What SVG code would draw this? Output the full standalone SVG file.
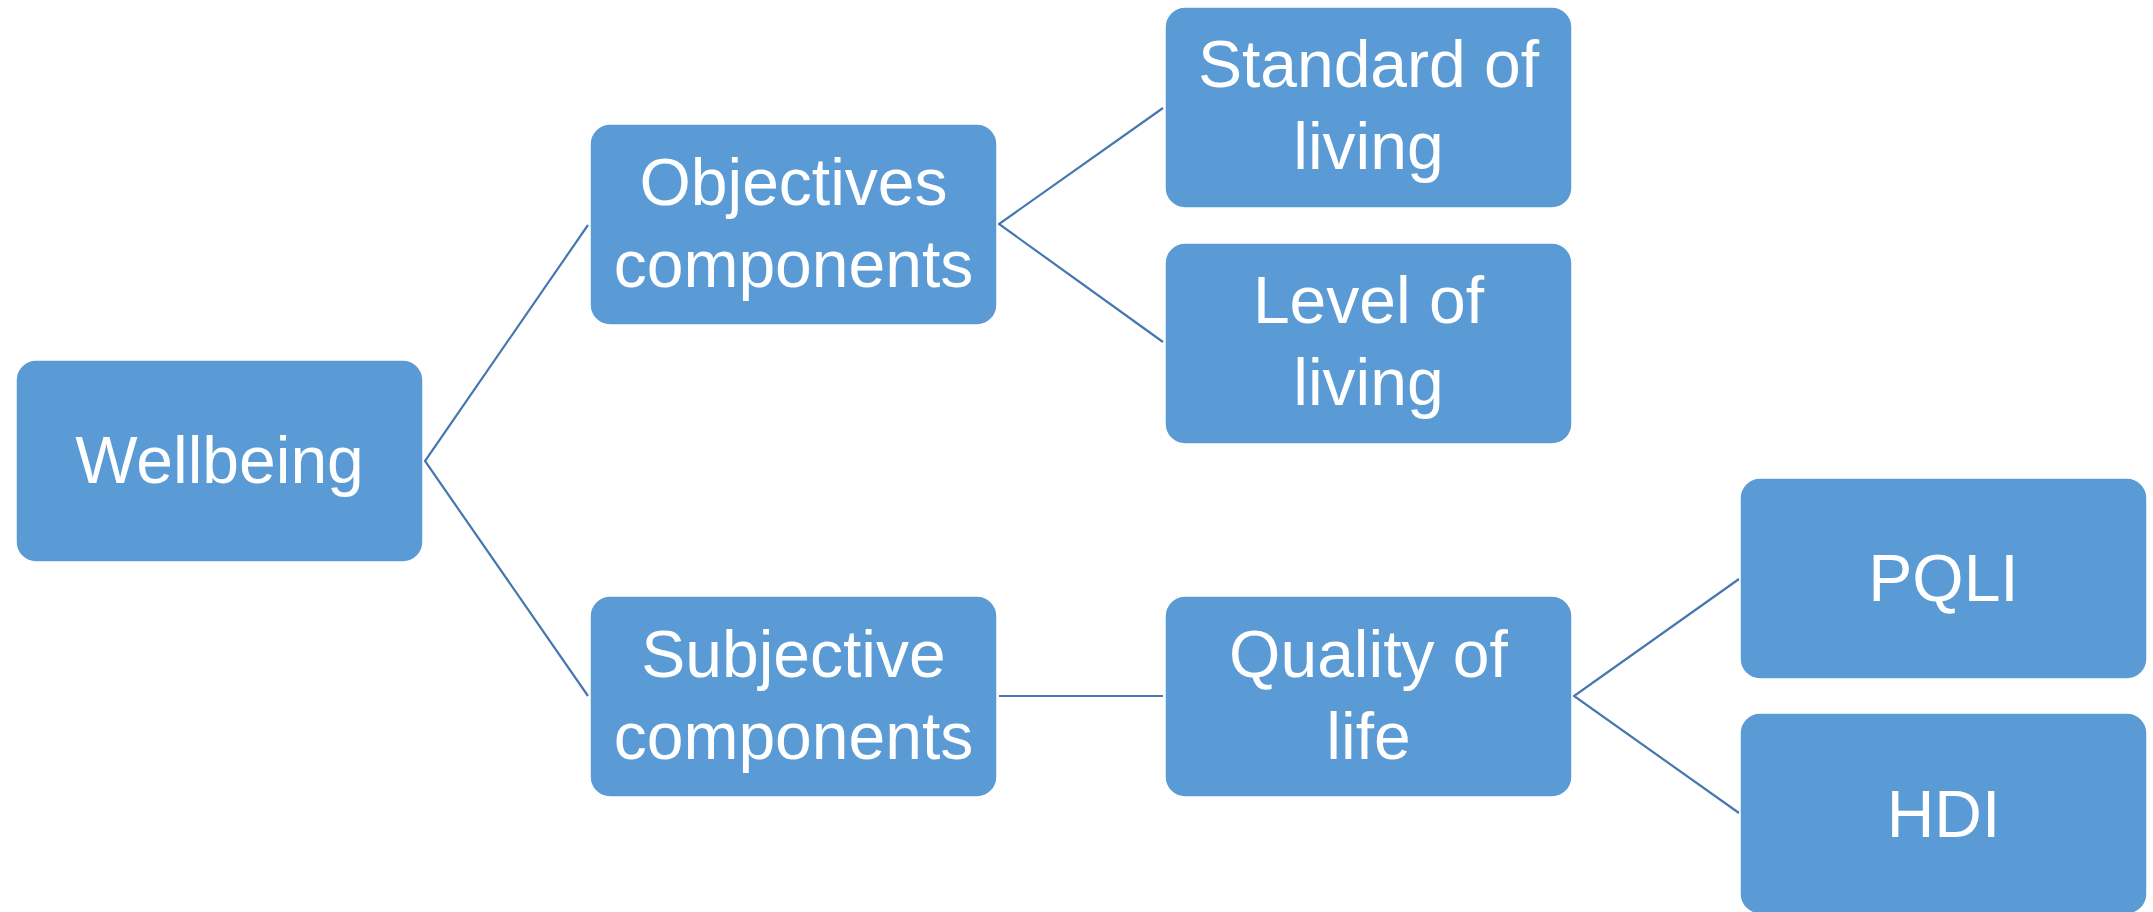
<svg xmlns="http://www.w3.org/2000/svg" width="2153" height="912" viewBox="0 0 2153 912">
  <style>
    .box { fill: #5B9BD5; stroke: #FFFFFF; stroke-width: 1.5; }
    .label { fill: #FFFFFF; font-family: "Liberation Sans", "Open Sans", sans-serif; font-size: 66px; text-anchor: middle; }
    .link { stroke: #4677B0; stroke-width: 2.2; fill: none; }
  </style>
  <rect width="2153" height="912" fill="#FFFFFF"/>

  <!-- connectors -->
  <g id="connectors">
    <path class="link" d="M588 225 L425 461 L588 696"/>
    <path class="link" d="M1163 108 L999 224 L1163 342"/>
    <path class="link" d="M999 696 L1163 696"/>
    <path class="link" d="M1739 579 L1574 696 L1739 813"/>
  </g>

  <g id="wellbeing">
    <rect class="box" x="16" y="360" width="407" height="202" rx="20"/>
    <text class="label" x="219.5" y="483">Wellbeing</text>
  </g>

  <g id="objectives">
    <rect class="box" x="590" y="124" width="407" height="201" rx="20"/>
    <text class="label" x="793.5" y="205">Objectives</text>
    <text class="label" x="793.5" y="287">components</text>
  </g>

  <g id="subjective">
    <rect class="box" x="590" y="596" width="407" height="201" rx="20"/>
    <text class="label" x="793.5" y="677">Subjective</text>
    <text class="label" x="793.5" y="759">components</text>
  </g>

  <g id="standard-of-living">
    <rect class="box" x="1165" y="7" width="407" height="201" rx="20"/>
    <text class="label" x="1368.5" y="87">Standard of</text>
    <text class="label" x="1368.5" y="169">living</text>
  </g>

  <g id="level-of-living">
    <rect class="box" x="1165" y="243" width="407" height="201" rx="20"/>
    <text class="label" x="1368.5" y="323">Level of</text>
    <text class="label" x="1368.5" y="405">living</text>
  </g>

  <g id="quality-of-life">
    <rect class="box" x="1165" y="596" width="407" height="201" rx="20"/>
    <text class="label" x="1368.5" y="677">Quality of</text>
    <text class="label" x="1368.5" y="759">life</text>
  </g>

  <g id="pqli">
    <rect class="box" x="1740" y="478" width="407" height="201" rx="20"/>
    <text class="label" x="1943.5" y="601">PQLI</text>
  </g>

  <g id="hdi">
    <rect class="box" x="1740" y="713" width="407" height="201" rx="20"/>
    <text class="label" x="1943.5" y="837">HDI</text>
  </g>
</svg>
